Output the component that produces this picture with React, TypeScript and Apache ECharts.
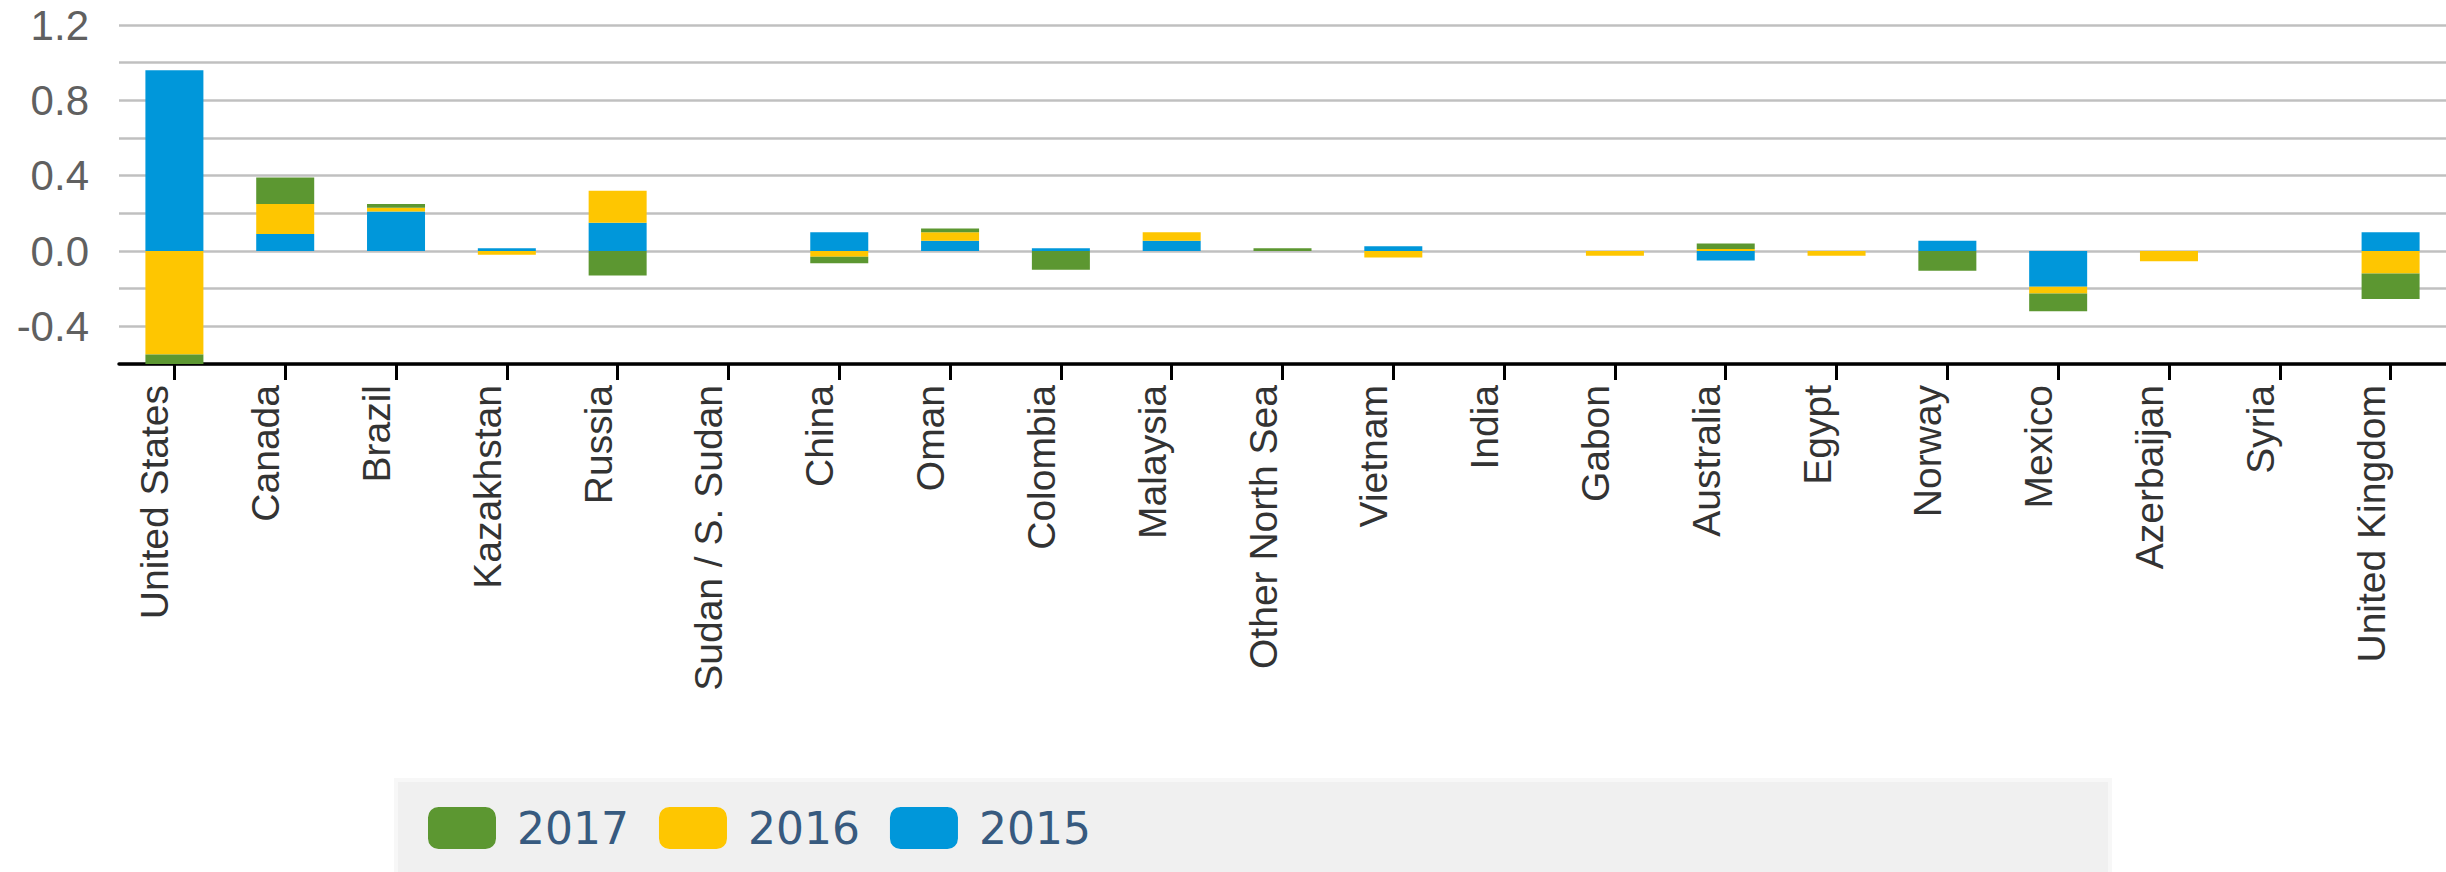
import React, { useEffect, useRef } from "react";
import * as echarts from "echarts";

const categories = [
  "United States", "Canada", "Brazil", "Kazakhstan", "Russia", "Sudan / S. Sudan",
  "China", "Oman", "Colombia", "Malaysia", "Other North Sea", "Vietnam", "India",
  "Gabon", "Australia", "Egypt", "Norway", "Mexico", "Azerbaijan", "Syria", "United Kingdom",
];

const values2015 = [0.96, 0.09, 0.21, 0.015, 0.15, null, 0.1, 0.055, 0.015, 0.055, null, 0.025, null, null, -0.05, null, 0.055, -0.19, null, null, 0.1];
const values2016 = [-0.55, 0.16, 0.02, -0.02, 0.17, null, -0.03, 0.045, null, 0.045, null, -0.035, null, -0.025, 0.01, -0.025, null, -0.035, -0.055, null, -0.12];
const values2017 = [-0.08, 0.14, 0.02, null, -0.13, null, -0.035, 0.02, -0.1, null, 0.015, null, null, null, 0.03, null, -0.105, -0.095, null, null, -0.135];

const yLabelValues = [-0.4, 0.0, 0.4, 0.8, 1.2];
const legendOrder = ["2017", "2016", "2015"];

const colors = { "2017": "#5c9731", "2016": "#fec601", "2015": "#0097da" };

export default function App() {
  const ref = useRef<HTMLDivElement>(null);

  useEffect(() => {
    document.body.style.margin = "0";
    if (!ref.current) return;
    const chart = echarts.init(ref.current, undefined, { renderer: "svg" });

    const mk = (name: string, data: (number | null)[]) => ({
      name,
      type: "bar",
      stack: "total",
      barWidth: 58,
      data,
      itemStyle: { color: (colors as any)[name] },
      clip: true,
    });

    chart.setOption({
      animation: false,
      backgroundColor: "#ffffff",
      grid: { left: 119, top: 25, width: 2333, height: 339, containLabel: false },
      graphic: [
        {
          type: "rect",
          z: 0,
          shape: { x: 396, y: 780, width: 1714, height: 100 },
          style: { fill: "#f0f0f0", stroke: "#f7f7f7", lineWidth: 4 },
        },
      ],
      legend: {
        z: 10,
        data: legendOrder,
        left: 428,
        top: 806,
        padding: 0,
        itemWidth: 68,
        itemHeight: 42,
        itemGap: 30,
        icon: "roundRect",
        selectedMode: false,
        textStyle: {
          fontFamily: "DejaVu Sans",
          fontSize: 44,
          color: "#375a7f",
          padding: [0, 0, 0, 16],
        },
      },
      xAxis: {
        type: "category",
        data: categories,
        axisLine: { onZero: false, lineStyle: { color: "#000000", width: 3.5 } },
        axisTick: { show: true, alignWithLabel: true, length: 16, lineStyle: { color: "#000000", width: 3 } },
        axisLabel: {
          interval: 0,
          rotate: 90,
          margin: 21,
          verticalAlign: "bottom",
          fontFamily: "Liberation Sans",
          fontSize: 39,
          color: "#333333",
        },
        splitLine: { show: false },
      },
      yAxis: {
        type: "value",
        min: -0.6,
        max: 1.2,
        interval: 0.2,
        axisLine: { show: false },
        axisTick: { show: false },
        splitLine: { lineStyle: { color: "#c0c0c0", width: 2.5 } },
        axisLabel: {
          margin: 30,
          fontFamily: "Liberation Sans",
          fontSize: 42,
          color: "#606060",
          padding: [10, 0, 0, 0],
          formatter: (v: number) => {
            const hit = yLabelValues.some((t) => Math.abs(t - v) < 1e-6);
            return hit ? v.toFixed(1) : "";
          },
        },
      },
      series: [mk("2015", values2015), mk("2016", values2016), mk("2017", values2017)],
    });

    return () => chart.dispose();
  }, []);

  return (
    <div
      ref={ref}
      style={{ position: "absolute", left: 0, top: 0, width: 2446, height: 872 }}
    />
  );
}
